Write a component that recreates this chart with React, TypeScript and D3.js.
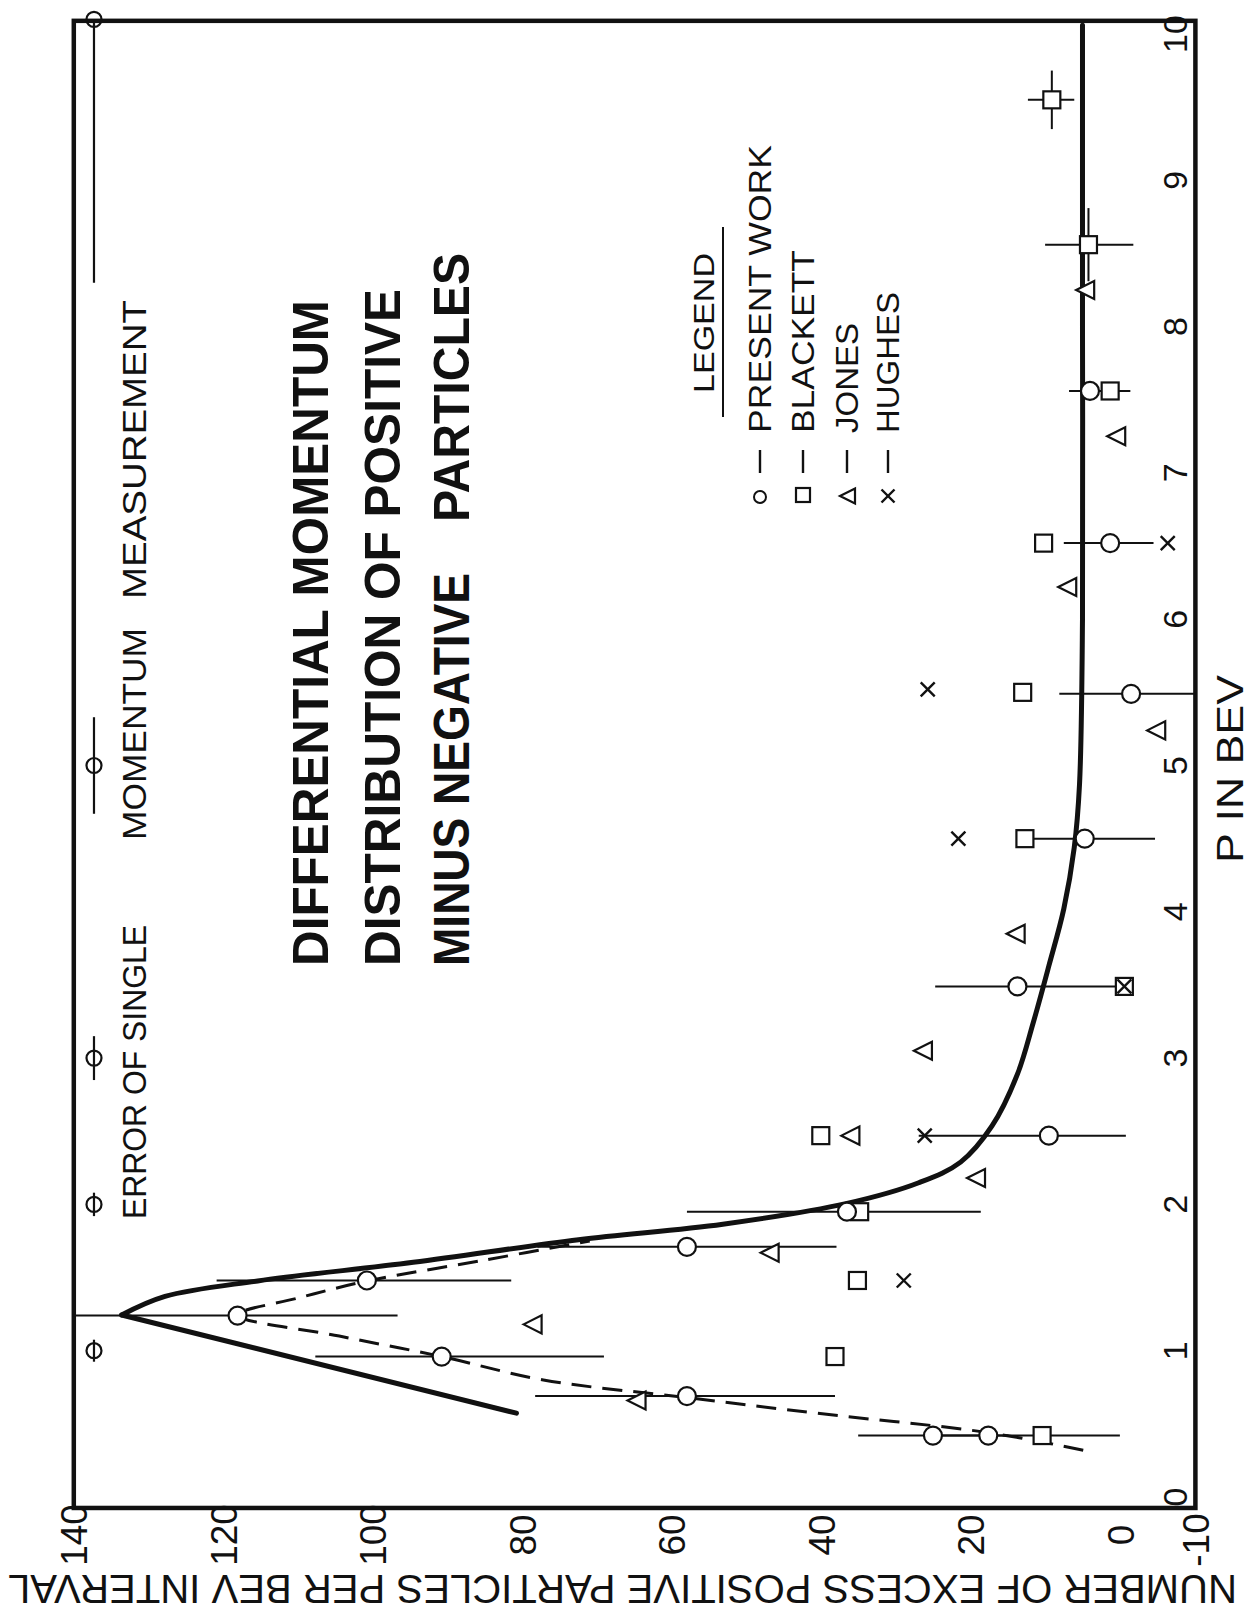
import React from 'react';
import * as d3 from 'd3';

const FONT = '"Liberation Sans", Arial, sans-serif';

// tick labels
const pTicks = [0, 1, 2, 3, 4, 5, 6, 7, 8, 9, 10];
const nTicks = [140, 120, 100, 80, 60, 40, 20, 0, -10];

// present work (circles): momentum, number, error bar low/high
const presentP = [0.42, 0.42, 0.69, 0.96, 1.24, 1.48, 1.71, 1.95, 2.47, 3.49, 4.5, 5.49, 6.52, 7.56];
const presentN = [25.1, 17.7, 58.0, 90.8, 118.1, 100.8, 58.0, 36.6, 9.6, 13.8, 4.8, -1.4, 1.4, 4.1];
const presentLo = [15, 0.1, 38.2, 69.1, 96.7, 81.5, 38, 18.7, -0.7, 0, -4.6, -10, -4.4, -1.3];
const presentHi = [35.1, 25, 78.3, 107.7, 140, 120.9, 78, 58, 27, 24.8, 13, 8.2, 7.6, 6.9];

// Blackett (squares)
const blackettP = [0.42, 0.96, 1.48, 1.95, 2.47, 3.49, 4.5, 5.5, 6.52, 7.56, 8.56, 9.55];
const blackettN = [10.5, 38.2, 35.2, 34.9, 40.1, -0.5, 12.8, 13.1, 10.3, 1.4, 4.3, 9.2];
// Blackett points drawn with error crosses
const blackettErrP = [8.56, 9.55];
const blackettErrN = [4.3, 9.2];
const blackettErrLo = [-1.7, 6.2];
const blackettErrHi = [10.1, 12.4];
const blackettErrDP = [0.25, 0.2];

// Jones (triangles)
const jonesP = [0.66, 1.18, 1.67, 2.18, 2.47, 3.05, 3.85, 5.24, 6.22, 7.25, 8.25];
const jonesN = [64.5, 78.4, 46.7, 19.1, 35.9, 26.2, 13.8, -5.0, 6.9, 0.35, 4.5];

// Hughes (crosses)
const hughesP = [1.48, 2.47, 3.49, 4.5, 5.52, 6.52];
const hughesN = [29.0, 26.2, -0.5, 21.7, 25.8, -6.3];

// error of single momentum measurement
const singleP = [1, 2, 3, 5, 10.1];
const singleErr = [0.02, 0.08, 0.15, 0.33, 1.8];
const singleN = 137.3;

// solid curve
const solidLowP = [0.573, 1.244];
const solidLowN = [80.8, 133.6];
const solidUpP = [1.244, 1.371, 1.477, 1.604, 1.759, 1.865, 2.007, 2.148, 2.289, 2.536, 2.89, 3.24, 3.63, 4.02, 4.44, 4.87, 6.0, 8.0, 10.06];
const solidUpN = [133.6, 127.8, 115.4, 94.6, 72.5, 53.2, 36.6, 27.0, 21.4, 17.2, 13.8, 11.7, 9.6, 7.6, 6.2, 5.5, 5.1, 5.1, 5.1];

// dashed curve
const dashP = [0.32, 0.44, 0.57, 0.68, 0.8, 0.96, 1.1, 1.244, 1.36, 1.476, 1.62, 1.75];
const dashN = [5.0, 17.7, 40.2, 58, 77.2, 90.8, 104.5, 118.1, 110, 100.8, 85, 71];

const yTitle = 'NUMBER  OF  EXCESS  POSITIVE  PARTICLES  PER  BEV  INTERVAL';

function VText({ x, y, size, anchor = 'start', weight = 'normal', length, children }: any) {
  return (
    <text
      transform={`translate(${x},${y}) rotate(-90)`}
      dy="0.36em"
      fontSize={size}
      fontWeight={weight}
      textAnchor={anchor}
      textLength={length}
      lengthAdjust={length ? 'spacingAndGlyphs' : undefined}
      fill="#111"
    >
      {children}
    </text>
  );
}

function Tri({ x, y, s }: any) {
  return (
    <path
      d={`M${x - s * 0.6},${y} L${x + s * 0.4},${y - s / 2} L${x + s * 0.4},${y + s / 2} Z`}
      fill="white"
      stroke="#111"
      strokeWidth={2.2}
    />
  );
}

function Cross({ x, y, h }: any) {
  return (
    <g stroke="#111" strokeWidth={2.4}>
      <line x1={x - h} y1={y - h} x2={x + h} y2={y + h} />
      <line x1={x - h} y1={y + h} x2={x + h} y2={y - h} />
    </g>
  );
}

export default function App() {
  // the figure is turned a quarter turn: momentum runs up the page, the count runs leftwards
  const nX = d3.scaleLinear().domain([-10, 140]).range([1195.4, 73.8]);
  const pY = d3.scaleLinear().domain([0, 10]).range([1497, 34]);

  const path = (ps: number[], ns: number[], curve: any) =>
    d3
      .line<number>()
      .x((i) => nX(ns[i]))
      .y((i) => pY(ps[i]))
      .curve(curve)(ps.map((_, i) => i)) as string;

  const frameTop = pY(10.09);
  const frameBottom = pY(-0.075);

  return (
    <svg
      width={1255}
      height={1620}
      style={{ position: 'absolute', left: 0, top: 0, background: 'white' }}
      fontFamily={FONT}
    >
      {/* frame */}
      <rect
        x={nX(140)}
        y={frameTop}
        width={nX(-10) - nX(140)}
        height={frameBottom - frameTop}
        fill="none"
        stroke="#111"
        strokeWidth={4.5}
      />

      {/* error of single momentum measurement */}
      {singleP.map((p, i) => {
        const cx = nX(singleN);
        const cy = pY(p);
        const ext = Math.max(pY(p - singleErr[i]) - cy, 11);
        return (
          <g key={'s' + i} stroke="#111" strokeWidth={2.2} fill="none">
            <line x1={cx} y1={Math.max(cy - ext, frameTop)} x2={cx} y2={cy + ext} />
            <circle cx={cx} cy={cy} r={7.5} />
          </g>
        );
      })}
      <VText x={134} y={1219} size={33} length={294}>ERROR OF SINGLE</VText>
      <VText x={134} y={840} size={33} length={212}>MOMENTUM</VText>
      <VText x={134} y={599} size={33} length={299}>MEASUREMENT</VText>

      {/* title */}
      <VText x={310} y={966} size={50} weight="bold" length={666}>DIFFERENTIAL MOMENTUM</VText>
      <VText x={382} y={966} size={50} weight="bold" length={677}>DISTRIBUTION OF POSITIVE</VText>
      <VText x={451} y={966} size={50} weight="bold" length={393}>MINUS NEGATIVE</VText>
      <VText x={451} y={522} size={50} weight="bold" length={269}>PARTICLES</VText>

      {/* legend */}
      <VText x={703} y={393} size={30} length={140}>LEGEND</VText>
      <line x1={723} y1={417} x2={723} y2={227} stroke="#111" strokeWidth={2} />
      {[760, 803, 847, 888].map((x, i) => (
        <line key={'ld' + i} x1={x} y1={473} x2={x} y2={450} stroke="#111" strokeWidth={2.4} />
      ))}
      <circle cx={760} cy={497} r={6} fill="white" stroke="#111" strokeWidth={2} />
      <rect x={796} y={488} width={14} height={14} fill="white" stroke="#111" strokeWidth={2.2} />
      <Tri x={849} y={496} s={15} />
      <Cross x={888} y={496} h={6.5} />
      <VText x={760} y={433} size={31} length={288}>PRESENT WORK</VText>
      <VText x={803} y={433} size={31} length={183}>BLACKETT</VText>
      <VText x={847} y={433} size={31} length={110}>JONES</VText>
      <VText x={888} y={433} size={31} length={141}>HUGHES</VText>

      {/* curves */}
      <path d={path(solidLowP, solidLowN, d3.curveLinear)} fill="none" stroke="#111" strokeWidth={5} strokeLinecap="round" />
      <path d={path(solidUpP, solidUpN, d3.curveCatmullRom.alpha(0.5))} fill="none" stroke="#111" strokeWidth={5} strokeLinecap="round" />
      <path d={path(dashP, dashN, d3.curveCatmullRom.alpha(0.5))} fill="none" stroke="#111" strokeWidth={3} strokeDasharray="20 11" />

      {/* error bars */}
      {presentP.map((p, i) => (
        <line key={'pe' + i} x1={nX(presentHi[i])} x2={nX(presentLo[i])} y1={pY(p)} y2={pY(p)} stroke="#111" strokeWidth={2} />
      ))}
      {blackettErrP.map((p, i) => (
        <g key={'be' + i} stroke="#111" strokeWidth={2}>
          <line x1={nX(blackettErrHi[i])} x2={nX(blackettErrLo[i])} y1={pY(p)} y2={pY(p)} />
          <line x1={nX(blackettErrN[i])} x2={nX(blackettErrN[i])} y1={pY(p - blackettErrDP[i])} y2={pY(p + blackettErrDP[i])} />
        </g>
      ))}

      {/* markers */}
      {blackettP.map((p, i) => (
        <rect key={'b' + i} x={nX(blackettN[i]) - 8.5} y={pY(p) - 8.5} width={17} height={17} fill="white" stroke="#111" strokeWidth={2.2} />
      ))}
      {jonesP.map((p, i) => (
        <Tri key={'j' + i} x={nX(jonesN[i])} y={pY(p)} s={18} />
      ))}
      {hughesP.map((p, i) => (
        <Cross key={'h' + i} x={nX(hughesN[i])} y={pY(p)} h={7} />
      ))}
      {presentP.map((p, i) => (
        <circle key={'c' + i} cx={nX(presentN[i])} cy={pY(p)} r={9} fill="white" stroke="#111" strokeWidth={2.2} />
      ))}

      {/* P tick labels (inside frame) */}
      {pTicks.map((t) => (
        <VText key={'pt' + t} x={1175} y={pY(t)} size={34} anchor="middle">
          {t}
        </VText>
      ))}
      <VText x={1230} y={863} size={37} length={188}>P IN  BEV</VText>

      {/* number tick labels */}
      {nTicks.map((t) => (
        <VText key={'nt' + t} x={nX(t)} y={t < 0 ? 1540 : 1535} size={37} anchor="middle">
          {t}
        </VText>
      ))}

      {/* upside-down y title */}
      <text
        transform={`translate(1237,1589) rotate(180)`}
        dy="0.36em"
        fontSize={40}
        textLength={1229}
        lengthAdjust="spacingAndGlyphs"
        fill="#111"
      >
        {yTitle}
      </text>
    </svg>
  );
}
